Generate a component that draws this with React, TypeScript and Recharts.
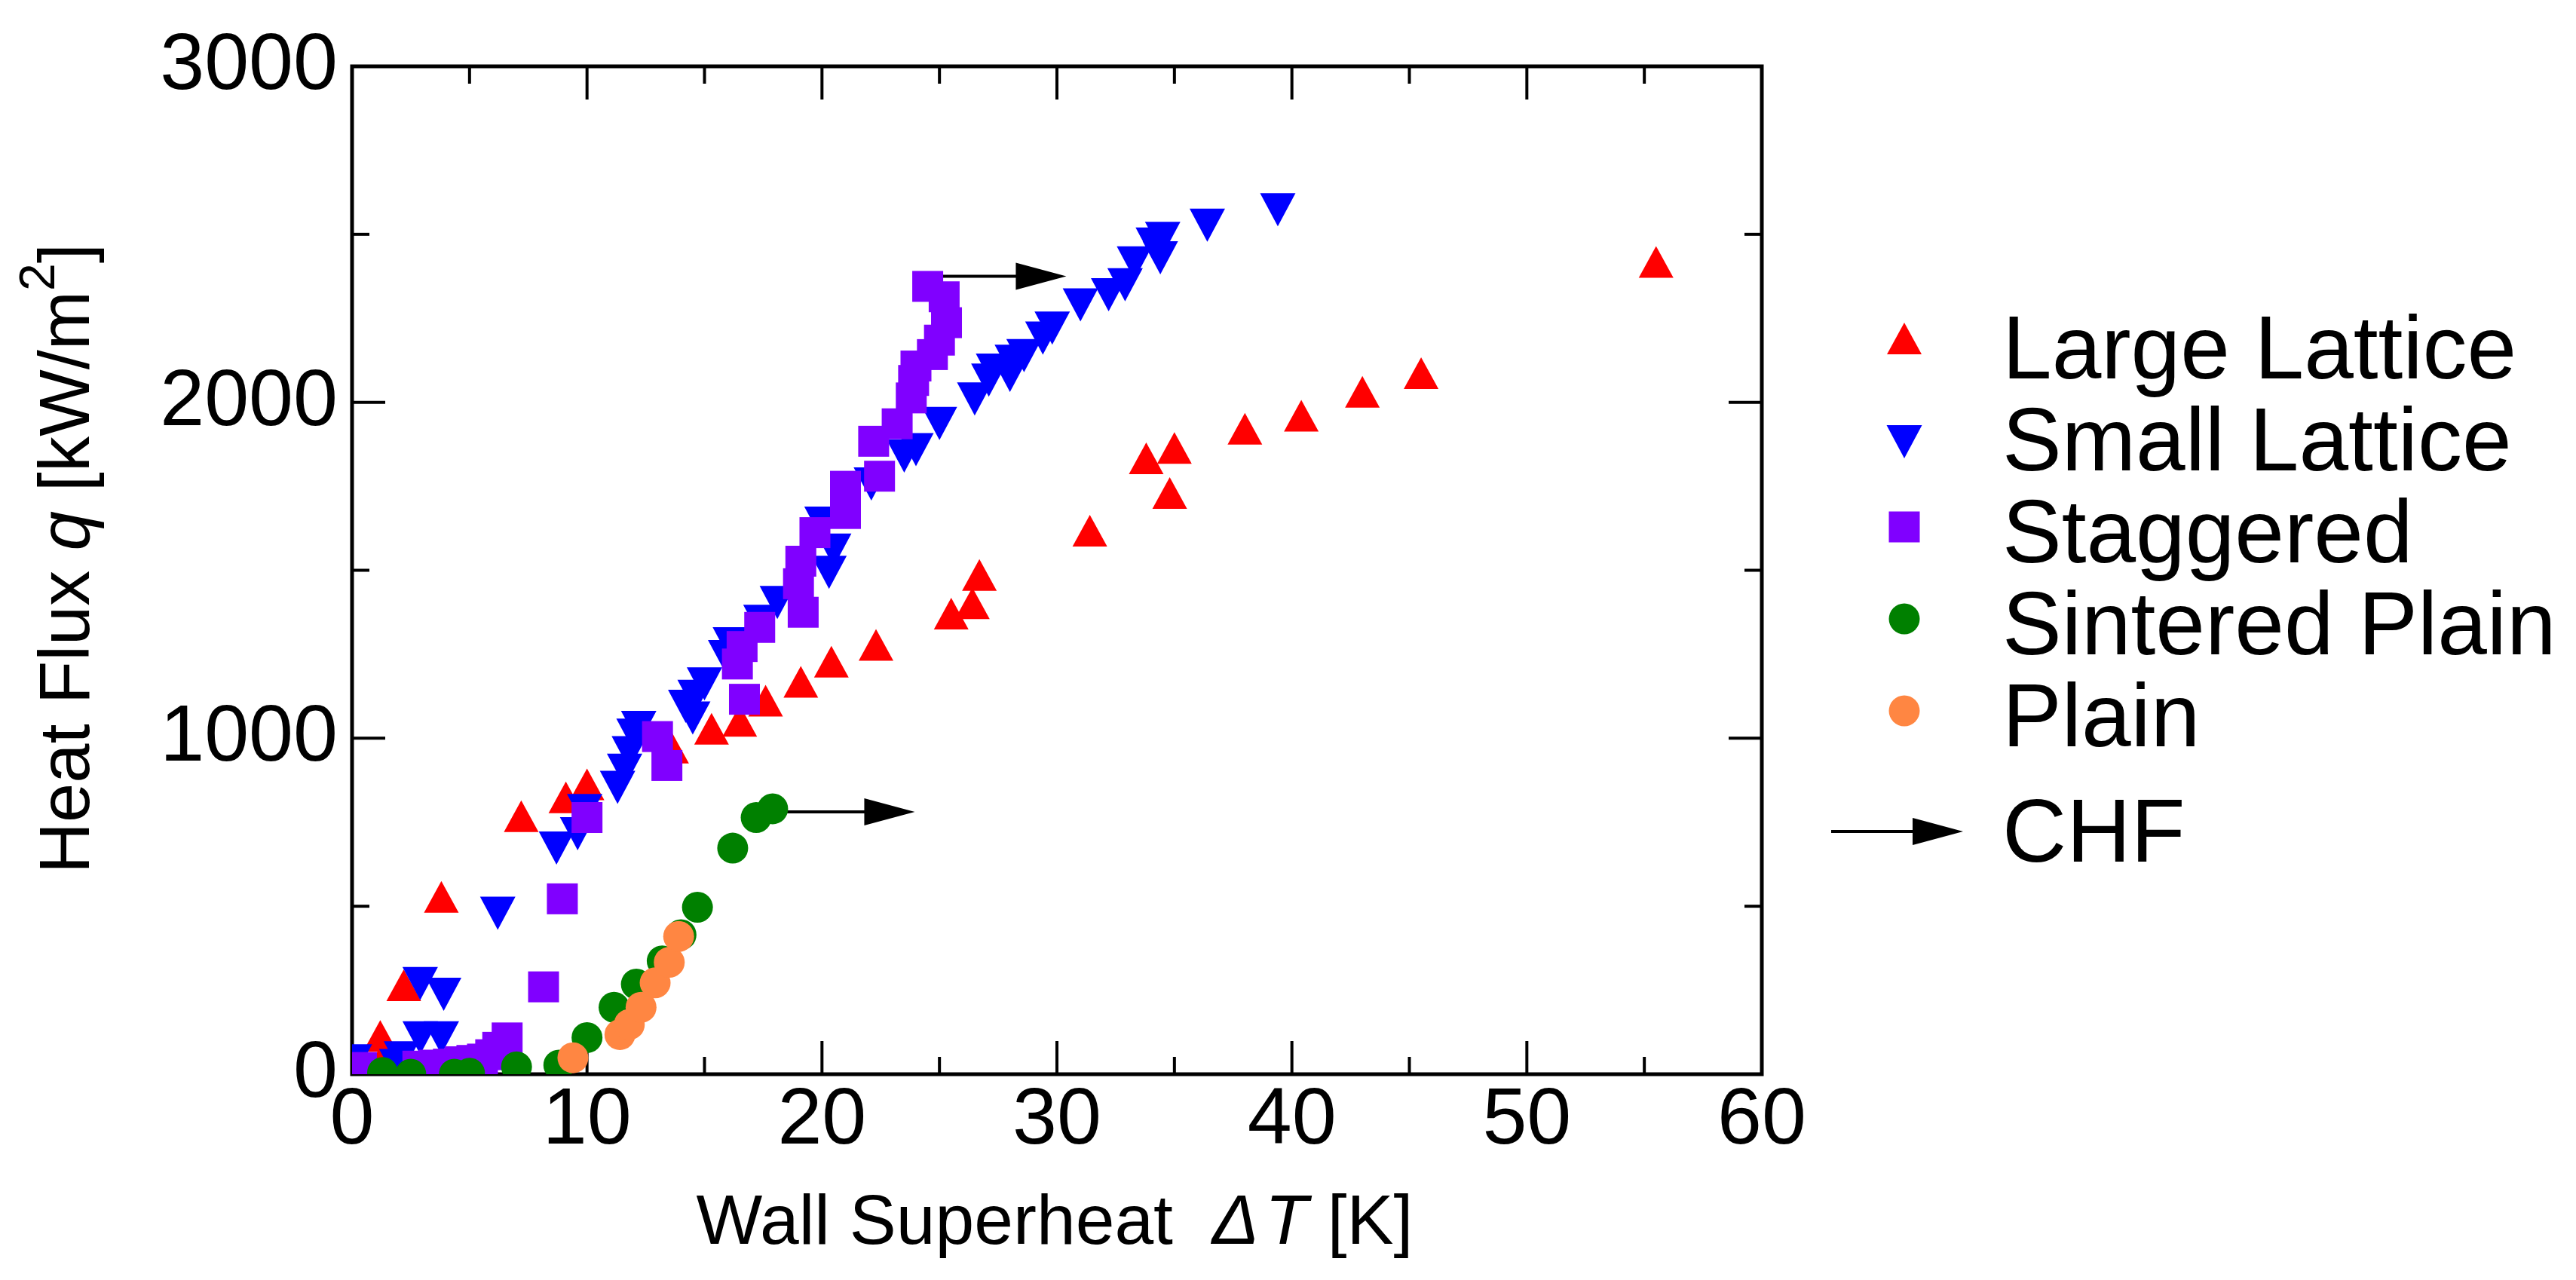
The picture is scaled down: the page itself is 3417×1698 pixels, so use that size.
import React from 'react'
import { ScatterChart, Scatter, XAxis, YAxis, ReferenceLine, ReferenceArea, Legend } from 'recharts'

type Pt = [number, number]

// [wall superheat dT (K), heat flux q (kW/m2)]
const largeLattice: Pt[] = [
  [0.1, 25], [1.3, 48], [1.2, 114], [2.2, 265], [3.8, 528], [7.2, 768], [9.1, 824], [10.0, 863],
  [13.6, 972], [15.3, 1028], [16.5, 1052], [17.6, 1112], [19.1, 1168], [20.4, 1228], [22.3, 1278],
  [25.5, 1371], [26.4, 1402], [26.7, 1486], [31.4, 1618], [33.8, 1833], [34.8, 1730], [35.0, 1864],
  [38.0, 1921], [40.4, 1960], [43.0, 2031], [45.5, 2087], [55.5, 2418],
]
const smallLattice: Pt[] = [
  [0.1, 40], [0.3, 15], [1.9, 26], [2.1, 49], [2.9, 108], [3.8, 108], [2.9, 270], [3.9, 238],
  [6.2, 479], [8.7, 673], [9.6, 716], [9.9, 785], [11.3, 854], [11.6, 905], [11.8, 957], [12.0, 1009],
  [12.2, 1032], [14.2, 1095], [14.5, 1060], [14.6, 1125], [15.0, 1162], [15.9, 1243], [16.1, 1281],
  [17.4, 1348], [18.1, 1404], [20.0, 1640], [20.3, 1494], [20.5, 1560], [22.1, 1757], [23.5, 1840],
  [24.0, 1859], [25.0, 1937], [26.5, 2010], [27.1, 2066], [27.3, 2096], [28.0, 2080], [28.1, 2122],
  [28.6, 2139], [29.4, 2191], [29.8, 2221], [31.0, 2290], [32.2, 2320], [32.9, 2350], [33.3, 2415],
  [34.1, 2471], [34.4, 2430], [34.5, 2488], [36.4, 2527], [39.4, 2573],
]
const staggered: Pt[] = [
  [0.4, 20], [2.8, 24], [3.5, 27], [4.1, 30], [4.6, 37], [5.1, 41], [5.55, 45], [5.9, 58], [6.2, 80],
  [6.6, 108], [8.15, 260], [8.95, 522], [10.0, 764], [13.0, 1005], [13.4, 919], [16.4, 1221],
  [16.6, 1273], [16.7, 1116], [17.35, 1330], [19.0, 1460], [19.1, 1527], [19.2, 1375], [19.7, 1612],
  [21.0, 1669], [21.0, 1750], [22.2, 1884], [22.45, 1780], [23.2, 1936], [23.8, 2013], [23.9, 2065],
  [24.0, 2108], [24.7, 2142], [25.0, 2185], [25.3, 2237], [25.2, 2314], [24.5, 2345],
]
const sinteredPlain: Pt[] = [
  [1.3, 5], [2.5, 0], [4.35, 0], [5.0, 3], [7.0, 22], [8.8, 27], [10.0, 109], [11.15, 199],
  [12.1, 268], [13.2, 337], [14.0, 415], [14.7, 497], [16.2, 673], [17.2, 764], [17.9, 790],
]
const plain: Pt[] = [
  [9.4, 49], [11.4, 118], [11.8, 148], [12.3, 199], [12.9, 272], [13.5, 333], [13.9, 410],
]

// CHF arrows: start dT, end dT, q
const chfArrows = [
  { from: 24.8, to: 30.4, q: 2375 },
  { from: 18.4, to: 23.95, q: 781 },
]

const xTicks = [0, 5, 10, 15, 20, 25, 30, 35, 40, 45, 50, 55, 60]
const yTicks = [0, 500, 1000, 1500, 2000, 2500, 3000]

const FONT = '"Liberation Sans", Arial, sans-serif'
const RED = '#ff0000'
const BLUE = '#0000ff'
const PURPLE = '#8000ff'
const GREEN = '#008000'
const ORANGE = '#ff8642'

const toXY = (pts: Pt[]) => pts.map(([x, y]) => ({ x, y }))

const UpTri = ({ cx, cy, fill }: any) => (
  <polygon points={`${cx},${cy - 21} ${cx + 23},${cy + 21} ${cx - 23},${cy + 21}`} fill={fill} />
)
const DownTri = ({ cx, cy, fill }: any) => (
  <polygon points={`${cx - 23.5},${cy - 22} ${cx + 23.5},${cy - 22} ${cx},${cy + 22}`} fill={fill} />
)
const Square = ({ cx, cy, fill }: any) => (
  <rect x={cx - 20.5} y={cy - 20.5} width={41} height={41} fill={fill} />
)
const Dot = ({ cx, cy, fill }: any) => <circle cx={cx} cy={cy} r={20.5} fill={fill} />

const MAJOR = 44
const MINOR = 23

// inward ticks on bottom + top edge, label below
const XTickMark = ({ x1, y1, y2, value }: any) => {
  const top = Math.min(y1, y2)
  const bottom = Math.max(y1, y2)
  const major = value % 10 === 0
  const len = major ? MAJOR : MINOR
  return (
    <g>
      <line x1={x1} y1={bottom} x2={x1} y2={bottom - len} stroke="#000" strokeWidth={4} />
      <line x1={x1} y1={top} x2={x1} y2={top + len} stroke="#000" strokeWidth={4} />
      {major && (
        <text x={x1} y={bottom + 92} textAnchor="middle" fontSize={106} fontFamily={FONT} fill="#000">
          {value}
        </text>
      )}
    </g>
  )
}
// inward ticks on left + right edge, label at left
const YTickMark = ({ x1, x2, y1, value }: any) => {
  const left = Math.min(x1, x2)
  const right = Math.max(x1, x2)
  const major = value % 1000 === 0
  const len = major ? MAJOR : MINOR
  return (
    <g>
      <line x1={left} y1={y1} x2={left + len} y2={y1} stroke="#000" strokeWidth={4} />
      <line x1={right} y1={y1} x2={right - len} y2={y1} stroke="#000" strokeWidth={4} />
      {major && (
        <text x={left - 19} y={y1 + 30} textAnchor="end" fontSize={106} fontFamily={FONT} fill="#000">
          {value}
        </text>
      )}
    </g>
  )
}

const ChfArrow = ({ x1, y1, x2 }: any) => (
  <g>
    <line x1={x1} y1={y1} x2={x2 - 40} y2={y1} stroke="#000" strokeWidth={4} />
    <polygon points={`${x2 - 67},${y1 - 18} ${x2},${y1} ${x2 - 67},${y1 + 18}`} fill="#000" />
  </g>
)

const XLabel = () => (
  <text x={1391} y={1642} textAnchor="middle" fontSize={93} fontFamily={FONT} fill="#000">
    Wall Superheat{'\u00a0\u00a0'}
    <tspan fontStyle="italic">Δ</tspan>
    <tspan fontStyle="italic" dx={8}>T</tspan>
    {'\u00a0[K]'}
  </text>
)
const YLabel = () => (
  <text x={110} y={733} transform="rotate(-90 110 733)" textAnchor="middle" fontSize={94} fontFamily={FONT} fill="#000">
    Heat Flux <tspan fontStyle="italic">q</tspan> [kW/m
    <tspan dy={-46} fontSize={66}>2</tspan>
    <tspan dy={46}>]</tspan>
  </text>
)

const legendRows = [
  { name: 'Large Lattice', color: RED, Icon: UpTri, dy: -53 },
  { name: 'Small Lattice', color: BLUE, Icon: DownTri, dy: -38 },
  { name: 'Staggered', color: PURPLE, Icon: Square, dy: -47 },
  { name: 'Sintered Plain', color: GREEN, Icon: Dot, dy: -47 },
  { name: 'Plain', color: ORANGE, Icon: Dot, dy: -47 },
]

const LegendBox = () => (
  <svg width={1020} height={820} style={{ overflow: 'visible', display: 'block' }}>
    {legendRows.map((r, i) => {
      const base = 122 + 122 * i
      return (
        <g key={r.name}>
          <r.Icon cx={126} cy={base + r.dy} fill={r.color} />
          <text x={256} y={base} fontSize={118} fontFamily={FONT} fill="#000">{r.name}</text>
        </g>
      )
    })}
    <ChfArrow x1={29} y1={723} x2={204} />
    <text x={256} y={763} fontSize={118} fontFamily={FONT} fill="#000">CHF</text>
  </svg>
)

export default function App() {
  return (
    <div style={{ position: 'relative', width: 3400, height: 1690 }}>
      <ScatterChart width={3400} height={1690} margin={{ top: 80, right: 1071, bottom: 0, left: 0 }}>
        <XAxis
          type="number" dataKey="x" domain={[0, 60]} ticks={xTicks} height={273}
          tick={false} tickLine={false} axisLine={false} label={() => <XLabel />} allowDataOverflow
        />
        <YAxis
          type="number" dataKey="y" domain={[0, 3000]} ticks={yTicks} width={459}
          tick={false} tickLine={false} axisLine={false} label={() => <YLabel />} allowDataOverflow
        />
        <ReferenceArea x1={0} x2={60} y1={0} y2={3000} fill="none" fillOpacity={0}
          stroke="#000" strokeWidth={5} ifOverflow="visible" />
        {xTicks.map((v) => (
          <ReferenceLine key={`x${v}`} x={v} ifOverflow="visible"
            shape={(p: any) => <XTickMark {...p} value={v} />} />
        ))}
        {yTicks.map((v) => (
          <ReferenceLine key={`y${v}`} y={v} ifOverflow="visible"
            shape={(p: any) => <YTickMark {...p} value={v} />} />
        ))}
        <Scatter name="Large Lattice" data={toXY(largeLattice)} fill={RED}
          shape={(p: any) => <UpTri {...p} fill={RED} />} isAnimationActive={false} />
        <Scatter name="Small Lattice" data={toXY(smallLattice)} fill={BLUE}
          shape={(p: any) => <DownTri {...p} fill={BLUE} />} isAnimationActive={false} />
        <Scatter name="Staggered" data={toXY(staggered)} fill={PURPLE}
          shape={(p: any) => <Square {...p} fill={PURPLE} />} isAnimationActive={false} />
        <Scatter name="Sintered Plain" data={toXY(sinteredPlain)} fill={GREEN}
          shape={(p: any) => <Dot {...p} fill={GREEN} />} isAnimationActive={false} />
        <Scatter name="Plain" data={toXY(plain)} fill={ORANGE}
          shape={(p: any) => <Dot {...p} fill={ORANGE} />} isAnimationActive={false} />
        {chfArrows.map((a, i) => (
          <ReferenceLine
            key={`chf${i}`}
            segment={[{ x: a.from, y: a.q }, { x: a.to, y: a.q }]}
            shape={(p: any) => <ChfArrow {...p} />}
          />
        ))}
        <Legend
          layout="vertical" align="center" verticalAlign="middle" width={1020} height={820}
          wrapperStyle={{ left: 2392, top: 372, width: 1020, height: 820 }}
          content={() => <LegendBox />}
        />
      </ScatterChart>
    </div>
  )
}
